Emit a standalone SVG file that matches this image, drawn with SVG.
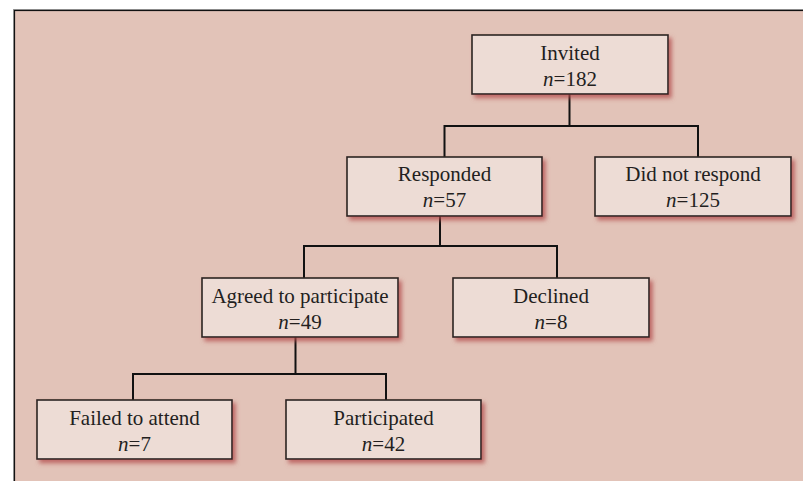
<svg xmlns="http://www.w3.org/2000/svg" width="803" height="481" viewBox="0 0 803 481">
  <defs>
    <filter id="sh" x="-10%" y="-20%" width="125%" height="150%">
      <feDropShadow dx="3" dy="3.5" stdDeviation="2" flood-color="#b24a4a" flood-opacity="0.75"/>
    </filter>
  </defs>
  <style>
    .box { fill: #eddcd5; stroke: #2a2422; stroke-width: 1.6; filter: url(#sh); }
    .t { font-family: "Liberation Serif", "Times New Roman", serif; font-size: 21px; fill: #231f1e; text-anchor: middle; }
    .i { font-style: italic; }
    .c { fill: none; stroke: #111; stroke-width: 2; }
  </style>
  <rect x="0" y="0" width="803" height="481" fill="#ffffff"/>
  <rect x="13.5" y="9.5" width="800" height="480" fill="none" stroke="#9a9a9a" stroke-width="1"/>
  <rect x="14.5" y="10.5" width="800" height="480" fill="#e2c3b8" stroke="#111" stroke-width="1.2"/>

  <g id="connectors">
    <polyline class="c" points="569.5,94 569.5,126"/>
    <polyline class="c" points="444.5,157 444.5,126 698,126 698,157"/>
    <polyline class="c" points="440,216 440,246"/>
    <polyline class="c" points="304,278 304,246 557,246 557,278"/>
    <polyline class="c" points="295.5,337 295.5,374"/>
    <polyline class="c" points="133,400 133,374 386,374 386,400"/>
  </g>

  <g id="invited">
    <rect class="box" x="472" y="35" width="196" height="59"/>
    <text class="t" x="570" y="60">Invited</text>
    <text class="t" x="570" y="86"><tspan class="i">n</tspan>=182</text>
  </g>
  <g id="responded">
    <rect class="box" x="347" y="157" width="195" height="59"/>
    <text class="t" x="444.5" y="181">Responded</text>
    <text class="t" x="444.5" y="207"><tspan class="i">n</tspan>=57</text>
  </g>
  <g id="did-not-respond">
    <rect class="box" x="595" y="157" width="196" height="59"/>
    <text class="t" x="693" y="181">Did not respond</text>
    <text class="t" x="693" y="207"><tspan class="i">n</tspan>=125</text>
  </g>
  <g id="agreed">
    <rect class="box" x="202" y="278" width="196" height="59"/>
    <text class="t" x="300" y="302.5">Agreed to participate</text>
    <text class="t" x="300" y="328.5"><tspan class="i">n</tspan>=49</text>
  </g>
  <g id="declined">
    <rect class="box" x="453" y="278" width="196" height="59"/>
    <text class="t" x="551" y="302.5">Declined</text>
    <text class="t" x="551" y="328.5"><tspan class="i">n</tspan>=8</text>
  </g>
  <g id="failed">
    <rect class="box" x="37" y="400" width="195" height="59"/>
    <text class="t" x="134.5" y="424.5">Failed to attend</text>
    <text class="t" x="134.5" y="450.5"><tspan class="i">n</tspan>=7</text>
  </g>
  <g id="participated">
    <rect class="box" x="286" y="400" width="195" height="59"/>
    <text class="t" x="383.5" y="424.5">Participated</text>
    <text class="t" x="383.5" y="450.5"><tspan class="i">n</tspan>=42</text>
  </g>
</svg>
